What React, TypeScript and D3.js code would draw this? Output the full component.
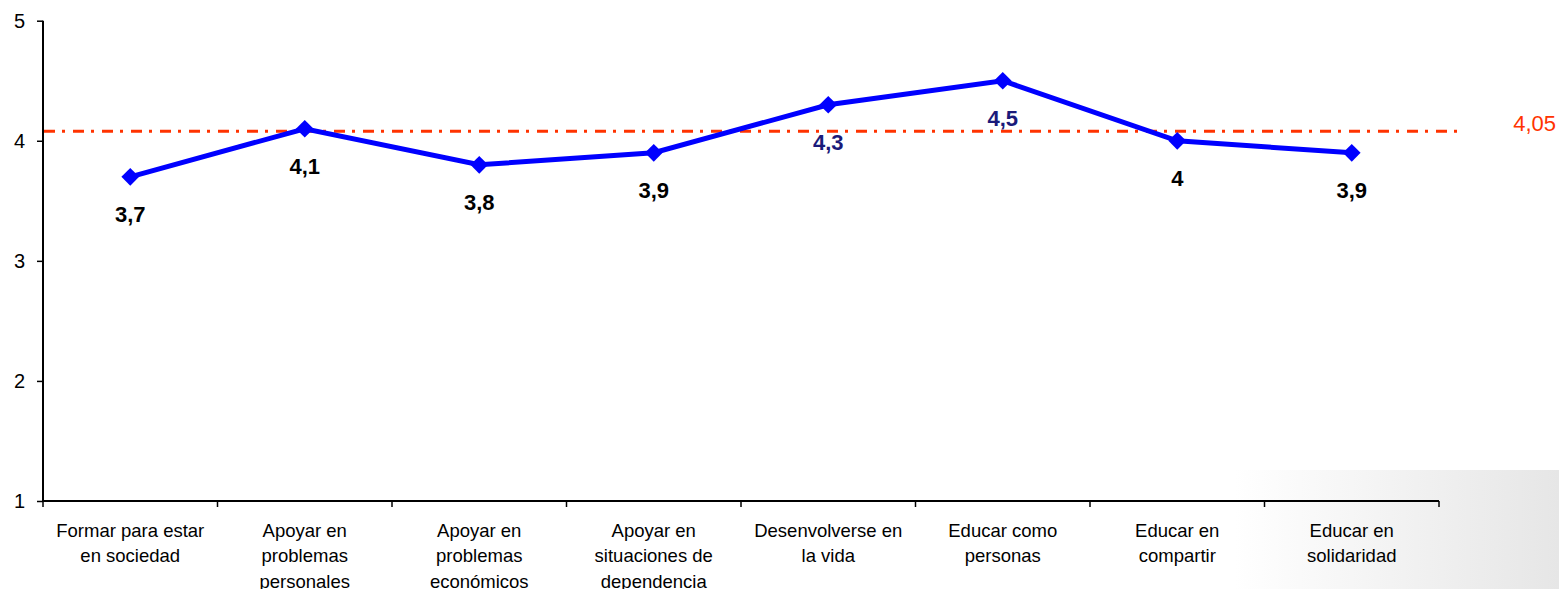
import React, { useEffect, useRef } from 'react';
import * as d3 from 'd3';

const categories = [
  ['Formar para estar', 'en sociedad'],
  ['Apoyar en', 'problemas', 'personales'],
  ['Apoyar en', 'problemas', 'económicos'],
  ['Apoyar en', 'situaciones de', 'dependencia'],
  ['Desenvolverse en', 'la vida'],
  ['Educar como', 'personas'],
  ['Educar en', 'compartir'],
  ['Educar en', 'solidaridad'],
];
const values = [3.7, 4.1, 3.8, 3.9, 4.3, 4.5, 4, 3.9];
const valueLabels = ['3,7', '4,1', '3,8', '3,9', '4,3', '4,5', '4', '3,9'];
const labelColors = ['#000', '#000', '#000', '#000', '#1a1a7a', '#1a1a7a', '#000', '#000'];
const yTicks = [1, 2, 3, 4, 5];
const meanValue = 4.08;
const meanLabel = '4,05';

const W = 1559;
const H = 589;

const App = () => {
  const ref = useRef<SVGSVGElement | null>(null);

  useEffect(() => {
    if (!ref.current) return;
    const svg = d3.select(ref.current);
    svg.selectAll('*').remove();

    const left = 43, right = 1439, top = 20.7, bottom = 501;
    const font = 'Arial, "Liberation Sans", sans-serif';

    // faint grey patch at the bottom right
    const defs = svg.append('defs');
    const grad = defs.append('linearGradient').attr('id', 'corner').attr('x1', '0').attr('x2', '1');
    grad.append('stop').attr('offset', '0').attr('stop-color', '#ffffff');
    grad.append('stop').attr('offset', '1').attr('stop-color', '#e6e6e6');
    svg.append('rect').attr('x', 1235).attr('y', 470).attr('width', W - 1235).attr('height', H - 470)
      .attr('fill', 'url(#corner)');

    const x = d3.scaleBand<number>().domain(d3.range(categories.length)).range([left, right]);
    const y = d3.scaleLinear().domain([1, 5]).range([bottom, top]);
    const cx = (i: number) => (x(i) as number) + x.bandwidth() / 2;

    // y axis
    const yAxis = svg.append('g').attr('transform', `translate(${left},0)`)
      .call(d3.axisLeft(y).tickValues(yTicks).tickFormat(d3.format('d')).tickSize(6).tickPadding(12));
    yAxis.select('.domain').attr('stroke', '#000').attr('stroke-width', 2).attr('d', `M0,${top}V${bottom}`);
    yAxis.selectAll('.tick line').attr('stroke', '#000').attr('stroke-width', 1.5);
    yAxis.selectAll('.tick text').attr('font-family', font).attr('font-size', 20).attr('fill', '#000');

    // x axis
    const xAxis = svg.append('g').attr('transform', `translate(0,${bottom})`);
    xAxis.append('line').attr('x1', left).attr('x2', right).attr('stroke', '#000').attr('stroke-width', 2);
    xAxis.selectAll('line.tk').data(d3.range(categories.length + 1)).enter().append('line')
      .attr('class', 'tk')
      .attr('x1', (i) => left + i * x.step()).attr('x2', (i) => left + i * x.step())
      .attr('y1', 0).attr('y2', 6).attr('stroke', '#000').attr('stroke-width', 1.5);

    const labels = xAxis.selectAll('text').data(categories).enter().append('text')
      .attr('text-anchor', 'middle').attr('font-family', font).attr('font-size', 18.5).attr('fill', '#000')
      .attr('transform', (_d, i) => `translate(${cx(i)},0)`);
    labels.selectAll('tspan').data((d) => d).enter().append('tspan')
      .attr('x', 0).attr('y', (_d, j) => 35.5 + j * 25.7).text((d) => d);

    // mean line
    svg.append('line').attr('x1', left + 1).attr('x2', 1462)
      .attr('y1', y(meanValue)).attr('y2', y(meanValue))
      .attr('stroke', '#ff3300').attr('stroke-width', 3).attr('stroke-dasharray', '11 7 3 8');
    svg.append('text').attr('x', 1556).attr('y', y(meanValue) - 0.5).attr('text-anchor', 'end')
      .attr('font-family', font).attr('font-size', 22).attr('fill', '#ff3300').text(meanLabel);

    // series
    const line = d3.line<number>().x((_d, i) => cx(i)).y((d) => y(d));
    svg.append('path').datum(values).attr('d', line).attr('fill', 'none')
      .attr('stroke', '#0000ff').attr('stroke-width', 5).attr('stroke-linejoin', 'miter');
    svg.selectAll('path.pt').data(values).enter().append('path').attr('class', 'pt')
      .attr('d', d3.symbol(d3.symbolDiamond2, 200))
      .attr('transform', (d, i) => `translate(${cx(i)},${y(d)})`)
      .attr('fill', '#0000ff');

    svg.selectAll('text.vl').data(values).enter().append('text').attr('class', 'vl')
      .attr('x', (_d, i) => cx(i)).attr('y', (d) => y(d) + 45)
      .attr('text-anchor', 'middle').attr('font-family', font).attr('font-size', 22).attr('font-weight', 'bold')
      .attr('fill', (_d, i) => labelColors[i]).text((_d, i) => valueLabels[i]);
  }, []);

  return (
    <svg ref={ref} width={W} height={H} style={{ position: 'absolute', left: 0, top: 0, background: '#fff' }} />
  );
};

export default App;
